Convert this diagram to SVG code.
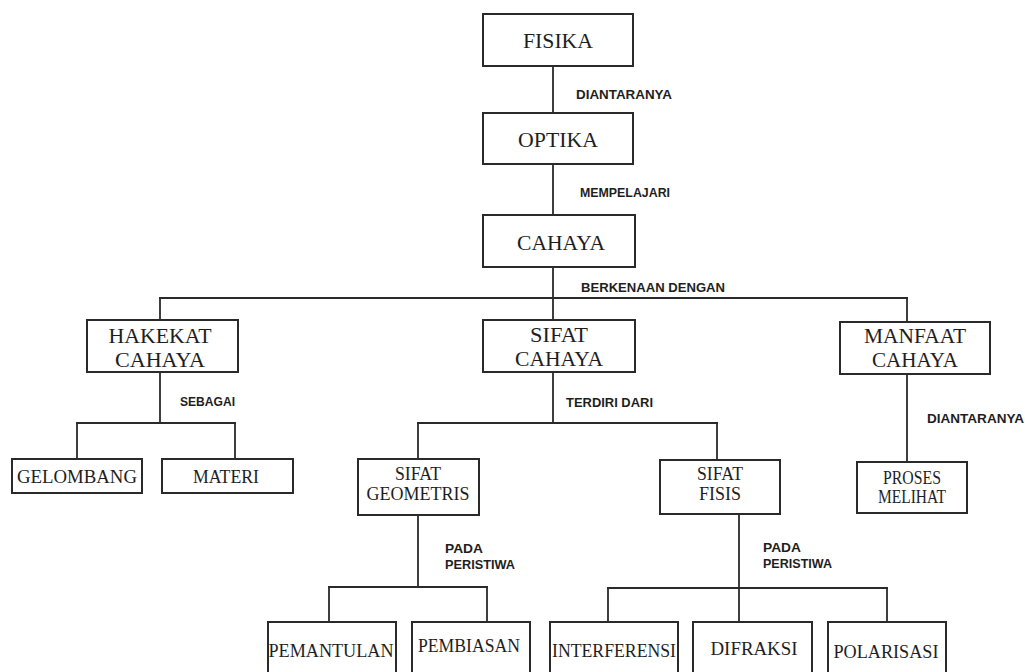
<svg xmlns="http://www.w3.org/2000/svg" width="1025" height="672" viewBox="0 0 1025 672">
<style>
.box{fill:#fff;stroke:#2a2a2a;stroke-width:2}
.conn line{stroke:#2a2a2a;stroke-width:1.8}
.n{font-family:"Liberation Serif","Times New Roman",serif;fill:#1e1e1e;text-anchor:middle}
.lbl{font-family:"Liberation Sans",Arial,sans-serif;font-weight:bold;font-size:12.5px;fill:#1e1e1e}
</style>
<rect width="1025" height="672" fill="#fff"/>
<g id="connectors" class="conn">
<line x1="553" y1="66" x2="553" y2="113"/>
<line x1="553" y1="164" x2="553" y2="215"/>
<line x1="553" y1="267" x2="553" y2="320"/>
<line x1="159" y1="298" x2="908" y2="298"/>
<line x1="160" y1="298" x2="160" y2="320"/>
<line x1="907" y1="298" x2="907" y2="322"/>
<line x1="160" y1="372" x2="160" y2="423"/>
<line x1="76" y1="423" x2="236" y2="423"/>
<line x1="77" y1="423" x2="77" y2="459"/>
<line x1="235" y1="423" x2="235" y2="459"/>
<line x1="553" y1="372" x2="553" y2="423"/>
<line x1="417" y1="423" x2="718" y2="423"/>
<line x1="418" y1="423" x2="418" y2="459"/>
<line x1="717" y1="423" x2="717" y2="460"/>
<line x1="907" y1="374" x2="907" y2="462"/>
<line x1="418" y1="515" x2="418" y2="587"/>
<line x1="328" y1="587" x2="488" y2="587"/>
<line x1="329" y1="587" x2="329" y2="622"/>
<line x1="487" y1="587" x2="487" y2="622"/>
<line x1="739" y1="514" x2="739" y2="622"/>
<line x1="607" y1="588" x2="888" y2="588"/>
<line x1="608" y1="588" x2="608" y2="622"/>
<line x1="887" y1="588" x2="887" y2="622"/>
</g>
<g id="labels">
<text class="lbl" x="576" y="99" textLength="96" lengthAdjust="spacingAndGlyphs">DIANTARANYA</text>
<text class="lbl" x="580" y="197" textLength="90" lengthAdjust="spacingAndGlyphs">MEMPELAJARI</text>
<text class="lbl" x="581" y="292" textLength="144" lengthAdjust="spacingAndGlyphs">BERKENAAN DENGAN</text>
<text class="lbl" x="180" y="406" textLength="55" lengthAdjust="spacingAndGlyphs">SEBAGAI</text>
<text class="lbl" x="566" y="407" textLength="87" lengthAdjust="spacingAndGlyphs">TERDIRI DARI</text>
<text class="lbl" x="927" y="423" textLength="97" lengthAdjust="spacingAndGlyphs">DIANTARANYA</text>
<text class="lbl" x="445" y="553" textLength="38" lengthAdjust="spacingAndGlyphs">PADA</text>
<text class="lbl" x="445" y="569" textLength="70" lengthAdjust="spacingAndGlyphs">PERISTIWA</text>
<text class="lbl" x="763" y="552" textLength="38" lengthAdjust="spacingAndGlyphs">PADA</text>
<text class="lbl" x="763" y="568" textLength="69" lengthAdjust="spacingAndGlyphs">PERISTIWA</text>
</g>
<g id="fisika"><rect class="box" x="483" y="14" width="150" height="52"/><text class="n" x="558" y="48" font-size="22" textLength="70" lengthAdjust="spacingAndGlyphs">FISIKA</text></g>
<g id="optika"><rect class="box" x="483" y="113" width="150" height="51"/><text class="n" x="558" y="147" font-size="21" textLength="80" lengthAdjust="spacingAndGlyphs">OPTIKA</text></g>
<g id="cahaya"><rect class="box" x="483" y="215" width="152" height="52"/><text class="n" x="561" y="250" font-size="21" textLength="88" lengthAdjust="spacingAndGlyphs">CAHAYA</text></g>
<g id="hakekat-cahaya"><rect class="box" x="87" y="320" width="151" height="52"/><text class="n" x="160" y="343" font-size="21" textLength="103" lengthAdjust="spacingAndGlyphs">HAKEKAT</text><text class="n" x="160" y="367" font-size="21" textLength="90" lengthAdjust="spacingAndGlyphs">CAHAYA</text></g>
<g id="sifat-cahaya"><rect class="box" x="483" y="320" width="152" height="52"/><text class="n" x="559" y="342" font-size="21" textLength="58" lengthAdjust="spacingAndGlyphs">SIFAT</text><text class="n" x="559" y="366" font-size="21" textLength="88" lengthAdjust="spacingAndGlyphs">CAHAYA</text></g>
<g id="manfaat-cahaya"><rect class="box" x="840" y="322" width="150" height="52"/><text class="n" x="915" y="343" font-size="20" textLength="102" lengthAdjust="spacingAndGlyphs">MANFAAT</text><text class="n" x="915" y="367" font-size="20" textLength="86" lengthAdjust="spacingAndGlyphs">CAHAYA</text></g>
<g id="gelombang"><rect class="box" x="12" y="459" width="130" height="34"/><text class="n" x="77" y="483" font-size="19" textLength="120" lengthAdjust="spacingAndGlyphs">GELOMBANG</text></g>
<g id="materi"><rect class="box" x="162" y="459" width="131" height="34"/><text class="n" x="226" y="483" font-size="19" textLength="66" lengthAdjust="spacingAndGlyphs">MATERI</text></g>
<g id="sifat-geometris"><rect class="box" x="358" y="459" width="121" height="56"/><text class="n" x="418" y="480" font-size="18" textLength="46" lengthAdjust="spacingAndGlyphs">SIFAT</text><text class="n" x="418" y="500" font-size="18" textLength="103" lengthAdjust="spacingAndGlyphs">GEOMETRIS</text></g>
<g id="sifat-fisis"><rect class="box" x="660" y="460" width="120" height="54"/><text class="n" x="720" y="480" font-size="18" textLength="46" lengthAdjust="spacingAndGlyphs">SIFAT</text><text class="n" x="720" y="500" font-size="18" textLength="42" lengthAdjust="spacingAndGlyphs">FISIS</text></g>
<g id="proses-melihat"><rect class="box" x="857" y="462" width="110" height="51"/><text class="n" x="912" y="484" font-size="18" textLength="58" lengthAdjust="spacingAndGlyphs">PROSES</text><text class="n" x="912" y="503" font-size="18" textLength="68" lengthAdjust="spacingAndGlyphs">MELIHAT</text></g>
<g id="pemantulan"><rect class="box" x="268" y="622" width="128" height="70"/><text class="n" x="331" y="657" font-size="18" textLength="125" lengthAdjust="spacingAndGlyphs">PEMANTULAN</text></g>
<g id="pembiasan"><rect class="box" x="412" y="622" width="118" height="70"/><text class="n" x="469" y="652" font-size="18" textLength="102" lengthAdjust="spacingAndGlyphs">PEMBIASAN</text></g>
<g id="interferensi"><rect class="box" x="550" y="622" width="128" height="70"/><text class="n" x="614" y="657" font-size="18" textLength="124" lengthAdjust="spacingAndGlyphs">INTERFERENSI</text></g>
<g id="difraksi"><rect class="box" x="693" y="622" width="119" height="70"/><text class="n" x="754" y="655" font-size="18" textLength="87" lengthAdjust="spacingAndGlyphs">DIFRAKSI</text></g>
<g id="polarisasi"><rect class="box" x="828" y="622" width="118" height="70"/><text class="n" x="886" y="658" font-size="18" textLength="105" lengthAdjust="spacingAndGlyphs">POLARISASI</text></g>
</svg>
